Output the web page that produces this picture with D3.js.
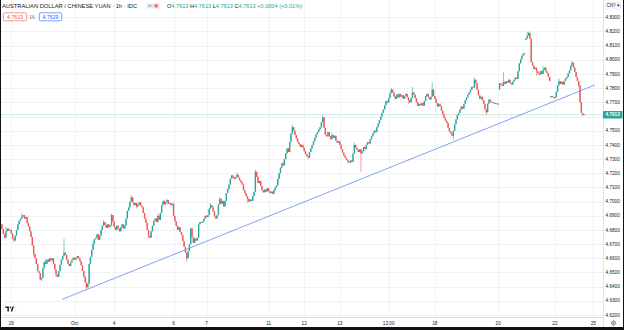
<!DOCTYPE html>
<html>
<head>
<meta charset="utf-8">
<script src="https://cdn.jsdelivr.net/npm/d3@7"></script>
<style>
  html, body { margin: 0; padding: 0; background: #ffffff; }
  svg { display: block; }
</style>
</head>
<body>
<svg id="chart" width="624" height="330"></svg>
<script>
// AUD/CNY hourly closes, Sep 28 – Oct 23
const closes = [
  4.6805, 4.6770, 4.6745, 4.6790, 4.6810, 4.6795, 4.6800, 4.6775, 4.6740, 4.6725, 4.6760,
  4.6800, 4.6840, 4.6865, 4.6880, 4.6895,
  4.6905, 4.6880, 4.6890, 4.6850, 4.6825,
  4.6790, 4.6750, 4.6690, 4.6630,
  4.6600, 4.6560, 4.6510, 4.6495, 4.6450, 4.6462,
  4.6530, 4.6575, 4.6560, 4.6590, 4.6575, 4.6600, 4.6585, 4.6600,
  4.6560, 4.6520, 4.6485, 4.6470,
  4.6510, 4.6555, 4.6590, 4.6615, 4.6640, 4.6625,
  4.6590, 4.6560, 4.6545, 4.6570, 4.6590,
  4.6605, 4.6590, 4.6600, 4.6615, 4.6600,
  4.6580, 4.6550, 4.6510, 4.6470, 4.6430, 4.6395,
  4.6420, 4.6560,
  4.6610, 4.6660, 4.6700, 4.6735, 4.6745,
  4.6770, 4.6730, 4.6760,
  4.6800, 4.6830, 4.6855, 4.6835, 4.6815, 4.6840, 4.6820, 4.6830,
  4.6905,
  4.6860, 4.6820, 4.6800, 4.6830, 4.6810, 4.6790, 4.6820, 4.6840, 4.6810, 4.6830,
  4.6880, 4.6935, 4.6960,
  4.7000, 4.7030, 4.6995,
  4.6975, 4.6990, 4.6965, 4.6980, 4.6995, 4.6970, 4.6960,
  4.6920, 4.6880, 4.6850, 4.6800, 4.6760, 4.6745,
  4.6790, 4.6830, 4.6865, 4.6880,
  4.6855, 4.6900, 4.6870, 4.6920,
  4.6975, 4.7005,
  4.6980, 4.6995, 4.7010, 4.6985, 4.6990, 4.6975, 4.6985,
  4.6900,
  4.6860, 4.6830, 4.6800, 4.6820, 4.6785, 4.6765,
  4.6720, 4.6680, 4.6640,
  4.6600, 4.6650,
  4.6700, 4.6810, 4.6750,
  4.6710, 4.6740, 4.6725, 4.6745,
  4.6840, 4.6855, 4.6850, 4.6860,
  4.6880, 4.6900, 4.6890, 4.6905,
  4.6950, 4.6975, 4.6960,
  4.6930, 4.6895, 4.6880, 4.6905,
  4.6980, 4.7020,
  4.6985, 4.7005, 4.6965, 4.7005, 4.7060, 4.7090,
  4.7120, 4.7160, 4.7185, 4.7170,
  4.7160, 4.7175, 4.7190, 4.7170, 4.7150, 4.7135, 4.7120,
  4.7080, 4.7060, 4.7040, 4.7020, 4.7000, 4.7015, 4.7005,
  4.7040, 4.7070,
  4.7210,
  4.7175, 4.7130, 4.7145, 4.7110, 4.7080, 4.7065,
  4.7085, 4.7070, 4.7095, 4.7075, 4.7060, 4.7070, 4.7055,
  4.7080, 4.7100, 4.7115,
  4.7160, 4.7200, 4.7240, 4.7270, 4.7255,
  4.7300, 4.7340, 4.7375, 4.7350,
  4.7420, 4.7480, 4.7525,
  4.7500, 4.7470, 4.7445, 4.7420,
  4.7405, 4.7385, 4.7400, 4.7380,
  4.7355, 4.7335, 4.7320, 4.7310,
  4.7350, 4.7375, 4.7400, 4.7425, 4.7450,
  4.7475, 4.7490, 4.7510, 4.7525,
  4.7560, 4.7595,
  4.7520, 4.7470, 4.7460,
  4.7490, 4.7460, 4.7440, 4.7470, 4.7450, 4.7465,
  4.7430, 4.7415, 4.7425, 4.7400,
  4.7370, 4.7345, 4.7325, 4.7310, 4.7295, 4.7285,
  4.7275, 4.7290, 4.7280,
  4.7340, 4.7400,
  4.7380, 4.7365, 4.7350, 4.7370, 4.7340, 4.7355,
  4.7385, 4.7370, 4.7400, 4.7420, 4.7410, 4.7440, 4.7460,
  4.7480, 4.7500, 4.7490, 4.7525, 4.7550,
  4.7575, 4.7600, 4.7625,
  4.7650, 4.7680, 4.7710, 4.7700,
  4.7730, 4.7765, 4.7790, 4.7770,
  4.7740, 4.7725, 4.7755, 4.7735,
  4.7760, 4.7740, 4.7750, 4.7725, 4.7745, 4.7760, 4.7735, 4.7715, 4.7700,
  4.7730, 4.7770, 4.7755, 4.7730,
  4.7700, 4.7675,
  4.7690, 4.7680, 4.7695, 4.7675,
  4.7710, 4.7745, 4.7760,
  4.7735, 4.7720,
  4.7740, 4.7790,
  4.7745, 4.7725,
  4.7695, 4.7670, 4.7690, 4.7675,
  4.7640, 4.7615, 4.7590, 4.7570, 4.7555,
  4.7520, 4.7495, 4.7480, 4.7465,
  4.7500,
  4.7545, 4.7580, 4.7610, 4.7625,
  4.7650, 4.7670, 4.7655,
  4.7690, 4.7715, 4.7735,
  4.7755, 4.7770, 4.7790, 4.7810, 4.7805,
  4.7860,
  4.7835, 4.7790, 4.7750, 4.7725,
  4.7740, 4.7715,
  4.7690, 4.7650, 4.7630,
  4.7690, 4.7720, 4.7705,
  4.7700, 4.7695, 4.7695, 4.7690, 4.7690, 4.7685,
  4.7835, 4.7825, 4.7815,
  4.7845, 4.7830, 4.7850, 4.7840,
  4.7860, 4.7835, 4.7825,
  4.7845, 4.7860, 4.7875, 4.7865,
  4.7920, 4.7975,
  4.8005, 4.8030, 4.8045, 4.8040,
  4.8150, 4.8170,
  4.8190, 4.8150,
  4.7985,
  4.7960, 4.7935, 4.7945, 4.7920, 4.7905,
  4.7895, 4.7920, 4.7900, 4.7930, 4.7945,
  4.7920, 4.7905, 4.7880, 4.7850,
  4.7745, 4.7740, 4.7730, 4.7735,
  4.7775, 4.7820, 4.7850, 4.7830, 4.7845, 4.7825,
  4.7850, 4.7870, 4.7880,
  4.7905, 4.7925, 4.7960, 4.7980,
  4.7945, 4.7915, 4.7880, 4.7850, 4.7820,
  4.7700,
  4.7625, 4.7609, 4.7613
];

// Open of the first bar; every other bar opens at the previous close unless a gap is listed
const firstOpen = 4.6840;
const openGaps = [[377, 4.7790], [397, 4.8140], [416, 4.7735], [441, 4.7613]];

// Wicks that reach beyond the body: [bar index, price]
const highWicks = [
  [3, 4.6822], [15, 4.6918], [19, 4.6900], [33, 4.6592], [47, 4.6737], [69, 4.6722],
  [77, 4.6870], [83, 4.6915], [98, 4.7045], [118, 4.6915], [125, 4.7020], [143, 4.6818],
  [158, 4.6990], [165, 4.7035], [178, 4.7205], [192, 4.7225], [213, 4.7282],
  [220, 4.7545], [243, 4.7608], [250, 4.7488], [267, 4.7418], [295, 4.7802],
  [311, 4.7808], [326, 4.7843], [358, 4.7875], [380, 4.7912], [398, 4.8198],
  [399, 4.8200], [410, 4.7958], [422, 4.7868], [432, 4.7992]
];
const lowWicks = [
  [9, 4.6712], [24, 4.6612], [29, 4.6447], [30, 4.6438], [41, 4.6468], [64, 4.6372],
  [102, 4.6952], [111, 4.6742], [140, 4.6575], [186, 4.6992], [232, 4.7298],
  [262, 4.7270], [272, 4.7210], [308, 4.7690], [342, 4.7435], [367, 4.7612],
  [405, 4.7890], [437, 4.7805]
];

// Price scale ticks and time scale ticks
const priceTicks = [4.62, 4.63, 4.64, 4.65, 4.66, 4.67, 4.68, 4.69, 4.70, 4.71, 4.72,
                    4.73, 4.74, 4.75, 4.76, 4.77, 4.78, 4.79, 4.80, 4.81, 4.82, 4.83];
const timeTickBars = [7, 55, 85, 130, 155, 202, 229, 256, 293, 328, 376, 419, 448];
const timeTickLabels = ["29", "Oct", "4", "6", "7", "11", "12", "13", "12:00", "18", "20", "22", "25"];

// Rising support line: [bar index, price]
const trendLine = [[45.5, 4.6310], [449.3, 4.7823]];

// Quote box values
const bidPrice = 4.7613;
const askPrice = 4.7629;
const symbolTitle = "AUSTRALIAN DOLLAR / CHINESE YUAN · 1h · IDC";
const currency = "CNY";

// ---------------------------------------------------------------
const W = 624, H = 330;
const paneRight = 603, paneBottom = 317;
const UP = "#26a69a", DOWN = "#ef5350", TEXT = "#131722";
const FONT = "'Liberation Sans', Arial, sans-serif";

const svg = d3.select("#chart");

const n = closes.length;
const gapMap = new Map(openGaps);
const bars = closes.map((c, i) => {
  const o = gapMap.has(i) ? gapMap.get(i) : (i === 0 ? firstOpen : closes[i - 1]);
  return { i, o, c, h: Math.max(o, c), l: Math.min(o, c) };
});
highWicks.forEach(([i, p]) => { if (bars[i]) bars[i].h = Math.max(bars[i].h, p); });
lowWicks.forEach(([i, p]) => { if (bars[i]) bars[i].l = Math.min(bars[i].l, p); });

const x = d3.scaleLinear().domain([0, n - 1]).range([2, 584]);
const y = d3.scaleLinear().domain([4.62, 4.83]).range([315, 17.3]);

svg.append("rect").attr("width", W).attr("height", H).attr("fill", "#ffffff");

// grid
const grid = svg.append("g").attr("stroke", "#f0f2f6").attr("stroke-width", 1).attr("shape-rendering", "crispEdges");
grid.selectAll("line.h").data(priceTicks).join("line")
  .attr("x1", 0).attr("x2", paneRight)
  .attr("y1", d => Math.round(y(d)) + 0.5).attr("y2", d => Math.round(y(d)) + 0.5);
grid.selectAll("line.v").data(timeTickBars).join("line")
  .attr("x1", d => Math.round(x(d)) + 0.5).attr("x2", d => Math.round(x(d)) + 0.5)
  .attr("y1", 0).attr("y2", paneBottom);

// last price line
const lastBar = bars[n - 1];
svg.append("line")
  .attr("x1", 0).attr("x2", paneRight)
  .attr("y1", y(lastBar.c)).attr("y2", y(lastBar.c))
  .attr("stroke", UP).attr("stroke-opacity", 0.3).attr("stroke-width", 0.8);

// candles
const candles = svg.append("g");
const colorOf = d => d.c >= d.o ? UP : DOWN;
candles.selectAll("line").data(bars).join("line")
  .attr("x1", d => x(d.i)).attr("x2", d => x(d.i))
  .attr("y1", d => y(d.h)).attr("y2", d => y(d.l))
  .attr("stroke", colorOf).attr("stroke-width", 0.7).attr("stroke-opacity", 0.8);
candles.selectAll("rect").data(bars).join("rect")
  .attr("x", d => x(d.i) - 0.68)
  .attr("width", 1.36)
  .attr("y", d => {
    const top = y(Math.max(d.o, d.c)), h = Math.abs(y(d.o) - y(d.c));
    return h < 1 ? (top + h / 2 - 0.5) : top;
  })
  .attr("height", d => Math.max(1, Math.abs(y(d.o) - y(d.c))))
  .attr("fill", colorOf);

// trend line
svg.append("line")
  .attr("x1", x(trendLine[0][0])).attr("y1", y(trendLine[0][1]))
  .attr("x2", x(trendLine[1][0])).attr("y2", y(trendLine[1][1]))
  .attr("stroke", "#5b84f7").attr("stroke-opacity", 0.85).attr("stroke-width", 0.9);

// scale borders
svg.append("line").attr("x1", paneRight + 0.5).attr("x2", paneRight + 0.5)
  .attr("y1", 0).attr("y2", H).attr("stroke", "#e0e3eb");
svg.append("line").attr("x1", 0).attr("x2", paneRight)
  .attr("y1", paneBottom + 0.5).attr("y2", paneBottom + 0.5).attr("stroke", "#e0e3eb");

// price scale labels
const tagY = y(lastBar.c);
svg.append("g").selectAll("text")
  .data(priceTicks.filter(p => Math.abs(y(p) - tagY) > 6))
  .join("text")
  .attr("x", 605.5).attr("y", d => y(d)).attr("dy", "0.35em")
  .attr("font-family", FONT).attr("font-size", 4.7).attr("fill", TEXT)
  .text(d => d.toFixed(4));

// last price tag
svg.append("rect").attr("x", 603).attr("y", tagY - 3.8).attr("width", 19.5).attr("height", 7.6)
  .attr("rx", 0.8).attr("fill", UP);
svg.append("text").attr("x", 605.5).attr("y", tagY).attr("dy", "0.35em")
  .attr("font-family", FONT).attr("font-size", 4.7).attr("font-weight", "bold").attr("fill", "#ffffff")
  .text(lastBar.c.toFixed(4));

// currency button
svg.append("rect").attr("x", 605).attr("y", 2.5).attr("width", 15.5).attr("height", 6.5)
  .attr("rx", 1).attr("fill", "#ffffff").attr("stroke", "#d6d9e0").attr("stroke-width", 0.5);
svg.append("text").attr("x", 606.5).attr("y", 5.8).attr("dy", "0.35em")
  .attr("font-family", FONT).attr("font-size", 4.5).attr("fill", TEXT)
  .text(currency + " ▾");

// time scale labels
svg.append("g").selectAll("text")
  .data(timeTickBars.map((b, k) => ({ b, label: timeTickLabels[k] })))
  .join("text")
  .attr("x", d => x(d.b)).attr("y", 323).attr("dy", "0.35em")
  .attr("text-anchor", "middle")
  .attr("font-family", FONT).attr("font-size", 4.7).attr("fill", TEXT)
  .text(d => d.label);

// settings gear
const gear = svg.append("g").attr("transform", "translate(613.5,323)")
  .attr("stroke", "#50535e").attr("fill", "none").attr("stroke-width", 0.6);
gear.append("circle").attr("r", 1.9);
gear.append("circle").attr("r", 0.7);
d3.range(8).forEach(k => {
  const a = k * Math.PI / 4;
  gear.append("line").attr("x1", Math.cos(a) * 1.9).attr("y1", Math.sin(a) * 1.9)
    .attr("x2", Math.cos(a) * 2.8).attr("y2", Math.sin(a) * 2.8);
});

// logo badge
const logo = svg.append("g").attr("transform", "translate(9.5,309)");
logo.append("circle").attr("r", 6.4).attr("fill", "#ffffff").attr("stroke", "#e3e5ea").attr("stroke-width", 0.7);
logo.append("path").attr("fill", TEXT)
  .attr("d", "M-4.2,-2.4 H-0.6 V2.6 H-2.1 V-1.1 H-4.2 Z M1.2,2.6 L2.9,-2.4 H4.4 L2.7,2.6 Z");
logo.append("circle").attr("cx", 0.9).attr("cy", -1.6).attr("r", 0.8).attr("fill", TEXT);

// legend: title line
function fitWidth(sel, target) {
  const w = sel.node().getComputedTextLength();
  const fs = parseFloat(sel.attr("font-size"));
  sel.attr("font-size", fs * target / w);
}
const title = svg.append("text").attr("x", 2).attr("y", 8.3)
  .attr("font-family", FONT).attr("font-size", 5.6).attr("fill", TEXT)
  .text(symbolTitle);
fitWidth(title, 135);

// legend buttons
svg.append("rect").attr("x", 146.5).attr("y", 3.2).attr("width", 6.5).attr("height", 5.4)
  .attr("rx", 1.2).attr("fill", "#e9ebf0");
svg.append("line").attr("x1", 148.3).attr("x2", 151.2).attr("y1", 5.9).attr("y2", 5.9)
  .attr("stroke", "#6a6d78").attr("stroke-width", 0.7);
svg.append("rect").attr("x", 153.2).attr("y", 3.2).attr("width", 6).attr("height", 5.4)
  .attr("rx", 1.2).attr("fill", "#fbd3d3");
svg.append("rect").attr("x", 154.9).attr("y", 4.6).attr("width", 2.6).attr("height", 2.6)
  .attr("fill", DOWN);

// legend: OHLC of the last bar
const prevClose = closes[n - 2];
const chg = lastBar.c - prevClose;
const chgPct = chg / prevClose * 100;
const sign = v => (v >= 0 ? "+" : "−");
const ohlc = svg.append("text").attr("x", 167).attr("y", 8.3)
  .attr("font-family", FONT).attr("font-size", 5.6).attr("fill", chg >= 0 ? UP : DOWN);
[["O", lastBar.o], ["H", lastBar.h], ["L", lastBar.l], ["C", lastBar.c]].forEach(([k, v], j) => {
  ohlc.append("tspan").attr("fill", TEXT).text((j ? " " : "") + k);
  ohlc.append("tspan").text(v.toFixed(4));
});
ohlc.append("tspan").text(" " + sign(chg) + Math.abs(chg).toFixed(4) +
  " (" + sign(chg) + Math.abs(chgPct).toFixed(2) + "%)");
fitWidth(ohlc, 135);

// legend: bid / spread / ask
function quoteBox(x0, w, color, value) {
  svg.append("rect").attr("x", x0).attr("y", 12.8).attr("width", w).attr("height", 8)
    .attr("rx", 1.3).attr("fill", "#ffffff").attr("stroke", color).attr("stroke-width", 0.6);
  svg.append("text").attr("x", x0 + w / 2).attr("y", 16.9).attr("dy", "0.35em")
    .attr("text-anchor", "middle").attr("font-family", FONT).attr("font-size", 5.2)
    .attr("fill", color).text(value.toFixed(4));
}
quoteBox(3.3, 23.4, DOWN, bidPrice);
svg.append("text").attr("x", 32).attr("y", 16.9).attr("dy", "0.35em").attr("text-anchor", "middle")
  .attr("font-family", FONT).attr("font-size", 5).attr("fill", "#787b86")
  .text(Math.round((askPrice - bidPrice) * 1e4));
quoteBox(39.3, 22.4, "#2962ff", askPrice);

// outer frame
svg.append("rect").attr("x", 0).attr("y", 0).attr("width", 1).attr("height", H).attr("fill", "#111");
svg.append("rect").attr("x", 623).attr("y", 0).attr("width", 1).attr("height", H).attr("fill", "#111");
svg.append("rect").attr("x", 0).attr("y", 327).attr("width", W).attr("height", 3).attr("fill", "#111");
</script>
</body>
</html>
